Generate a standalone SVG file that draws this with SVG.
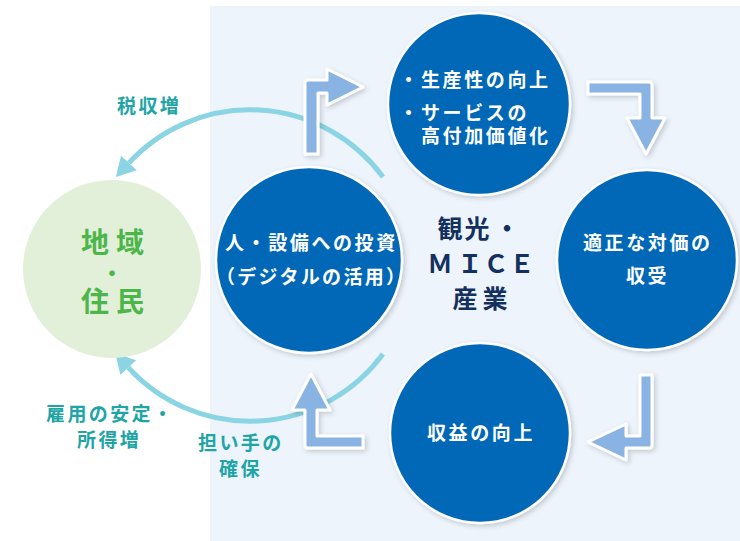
<svg xmlns="http://www.w3.org/2000/svg" width="740" height="541" viewBox="0 0 740 541">
<defs>
<style>
.t{font-family:"Noto Sans CJK JP","Noto Sans CJK SC",sans-serif;font-weight:700}
.w{fill:#ffffff;font-size:19px;letter-spacing:2.6px}
.dot{fill:#ffffff;font-size:19px}
.teal{fill:#1fa5a6;font-size:19px;letter-spacing:2.4px}
.navy{fill:#13305e;font-size:25px}
.grn{fill:#4db64a;font-size:28px}
.node{fill:#0067b6;stroke:#ffffff;stroke-width:2.5}
.barrow{fill:#89b3e2;stroke:#ffffff;stroke-width:3;stroke-linejoin:round}
.arc{fill:none;stroke:#8ad4e3;stroke-width:5}
</style>
<filter id="sh" x="-30%" y="-30%" width="160%" height="160%">
<feDropShadow dx="2" dy="2" stdDeviation="2.5" flood-color="#000000" flood-opacity="0.18"/>
</filter>
<marker id="ah" markerUnits="userSpaceOnUse" markerWidth="30" markerHeight="30" refX="0" refY="0" viewBox="-2 -14 24 28" orient="auto">
<path d="M0,-10 L18,0 L0,10 Z" fill="#8ad4e3"/>
</marker>
</defs>
<rect x="210" y="6" width="530" height="535" fill="#edf4fc"/>
<g id="connectors">
<path class="arc" d="M383,177 A165,165 0 0 0 128.9,162.9" marker-end="url(#ah)"/>
<path class="arc" d="M383,354 A165,165 0 0 1 128.3,367.5" marker-end="url(#ah)"/>
<path class="barrow" filter="url(#sh)" d="M305,154 L305,83 Q305,80 308,80 L327,80 L327,69 L363,87 L327,105 L327,93 L318,93 L318,154 Z"/>
<path class="barrow" filter="url(#sh)" d="M588,82 L649,82 Q652,82 652,85 L652,118 L665,118 L646,154 L627,118 L640,118 L640,94 L588,94 Z"/>
<path class="barrow" filter="url(#sh)" d="M640,375 L652,375 L652,445 Q652,448 649,448 L626,448 L626,460 L588,442 L626,424 L626,436 L640,436 Z"/>
<path class="barrow" filter="url(#sh)" d="M363,436 L317,436 L317,410 L330,410 L311,374 L292,410 L305,410 L305,445 Q305,448 308,448 L363,448 Z"/>
</g>
<g id="labels">
<text class="t teal" x="117" y="113">税収増</text>
<text class="t teal" x="46" y="421">雇用の安定・</text>
<text class="t teal" x="77" y="447">所得増</text>
<text class="t teal" x="198" y="450">担い手の</text>
<text class="t teal" x="219" y="476">確保</text>
</g>
<g id="node-region">
<circle cx="112" cy="269" r="89" fill="#e2efd9"/>
<text class="t grn" text-anchor="middle"><tspan x="95 130" y="253">地域</tspan><tspan x="112" y="281" style="font-size:22px">・</tspan><tspan x="95 130" y="312">住民</tspan></text>
</g>
<g id="node-productivity">
<circle class="node" cx="479" cy="104" r="91" filter="url(#sh)"/>
<text class="t dot" x="399" y="87">・</text>
<text class="t w" x="421" y="87">生産性の向上</text>
<text class="t dot" x="399" y="120">・</text>
<text class="t w"><tspan x="421" y="120">サービスの</tspan><tspan x="421" y="143">高付加価値化</tspan></text>
</g>
<g id="node-investment">
<circle class="node" cx="309" cy="260" r="93" filter="url(#sh)"/>
<text class="t w" x="225" y="250">人・設備への投資</text>
<text class="t w" x="216" y="284" style="letter-spacing:2.3px">（デジタルの活用）</text>
</g>
<g id="node-price">
<circle class="node" cx="647" cy="260" r="90" filter="url(#sh)"/>
<text class="t w" x="583" y="250">適正な対価の</text>
<text class="t w" x="626" y="283">収受</text>
</g>
<g id="node-revenue">
<circle class="node" cx="480" cy="433" r="90" filter="url(#sh)"/>
<text class="t w" x="427" y="440">収益の向上</text>
</g>
<g id="center-label">
<text class="t navy" x="450 477 507" y="238" text-anchor="middle">観光・</text>
<text class="t navy" x="440 470 496 522" y="273" text-anchor="middle">ＭＩＣＥ</text>
<text class="t navy" x="465 495" y="308" text-anchor="middle">産業</text>
</g>
</svg>
